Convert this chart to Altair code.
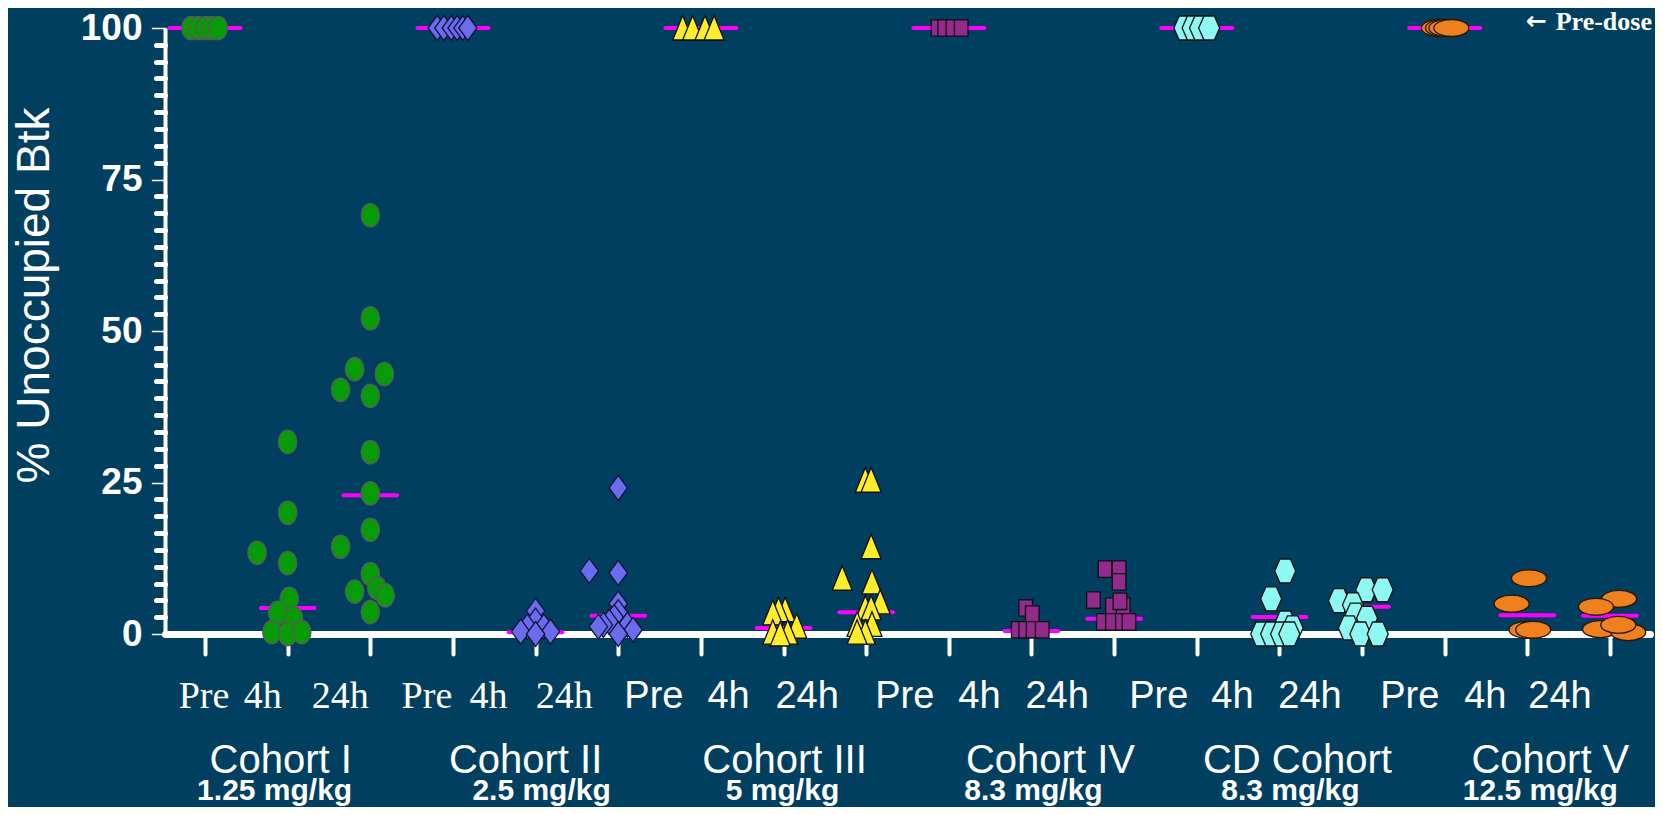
import altair as alt
import pandas as pd

# ---------------- data ----------------
cohorts = ["Cohort I", "Cohort II", "Cohort III", "Cohort IV", "CD Cohort", "Cohort V"]
doses = ["1.25 mg/kg", "2.5 mg/kg", "5 mg/kg", "8.3 mg/kg", "8.3 mg/kg", "12.5 mg/kg"]
times = ["Pre", "4h", "24h"]
y_major = [0, 25, 50, 75, 100]

# % unoccupied Btk per subject
c1_pre = [100, 100, 100, 100, 100]
c1_4h = [31.7, 20.0, 13.4, 11.7, 5.8, 3.5, 2.6, 0.3, 0.0, 0.3]
c1_24h = [69.1, 52.1, 43.7, 42.9, 40.3, 39.3, 30.0, 23.2, 17.2, 14.4, 9.9, 7.0, 7.6, 6.4, 3.6]
c2_pre = [100, 100, 100, 100, 100, 100]
c2_4h = [3.8, 2.2, 1.2, 1.2, 0.4, 0.4, 0.0]
c2_24h = [24.1, 10.4, 10.1, 5.0, 3.6, 2.8, 2.0, 1.5, 1.5, 0.7, 0.0, 1.2]
c3_pre = [100, 100, 100, 100]
c3_4h = [4.0, 4.0, 3.5, 1.3, 0.3, 0.3, 0.0]
c3_24h = [25.4, 25.4, 14.4, 9.2, 8.6, 5.3, 4.3, 4.3, 1.6, 1.6, 0.3, 0.3]
c4_pre = [100, 100, 100, 100]
c4_4h = [4.3, 3.3, 0.7, 0.7, 0.7, 0.7]
c4_24h = [10.7, 10.7, 8.6, 5.6, 4.6, 4.6, 5.4, 2.0, 2.0, 2.0, 2.0]
cd_pre = [100, 100, 100, 100]
cd_4h = [10.4, 5.8, 1.8, 1.0, 0.0, 0.0, 0.0, 0.0]
cd_24h = [7.3, 7.3, 5.5, 4.8, 3.1, 2.6, 1.0, 0.0, 0.0]
c5_pre = [100, 100, 100, 100]
c5_4h = [9.2, 5.0, 0.7, 0.7]
c5_24h = [5.8, 4.5, 0.8, 0.3, 1.5]

# horizontal scatter of each subject (fraction of the group spacing)
c1_pre_dx = [-0.17, -0.08, 0.01, 0.08, 0.16]
c1_4h_dx = [0, 0, -0.37, 0, 0.02, -0.12, 0.07, -0.19, 0, 0.17]
c1_24h_dx = [0, 0, -0.19, 0.17, -0.36, 0, 0, 0, 0, -0.36, 0, -0.19, 0.08, 0.18, 0]
c2_pre_dx = [-0.19, -0.11, -0.02, 0.05, 0.12, 0.18]
c2_4h_dx = [0, 0, -0.10, 0.10, -0.18, 0.18, 0]
c2_24h_dx = [0, -0.35, 0, 0, 0, -0.05, -0.11, -0.18, 0.11, 0.18, 0, -0.24]
c3_pre_dx = [-0.22, -0.10, 0.05, 0.16]
c3_4h_dx = [0.02, -0.06, -0.13, 0.16, -0.13, 0.05, -0.04]
c3_24h_dx = [-0.01, 0.06, 0.06, -0.29, 0.07, 0.17, -0.01, 0.06, -0.11, 0.07, -0.01, -0.11]
c4_pre_dx = [-0.13, -0.05, 0.05, 0.15]
c4_4h_dx = [-0.07, 0.01, -0.16, -0.07, 0.02, 0.13]
c4_24h_dx = [-0.11, 0.06, 0.06, -0.25, -0.02, 0.11, 0.07, -0.13, -0.02, 0.10, 0.18]
cd_pre_dx = [-0.15, -0.05, 0.04, 0.15]
cd_4h_dx = [0.07, -0.10, 0.07, 0.16, -0.22, -0.10, 0.02, 0.12]
cd_24h_dx = [0.05, 0.25, -0.28, -0.11, -0.08, 0.06, -0.16, -0.02, 0.19]
c5_pre_dx = [-0.07, -0.02, 0.02, 0.08]
c5_4h_dx = [0.02, -0.19, -0.01, 0.07]
c5_24h_dx = [0.11, -0.17, -0.12, 0.22, 0.10]

# median per cohort (magenta bars)
median_pre = [100, 100, 100, 100, 100, 100]
median_4h = [4.3, 0.3, 1.0, 0.5, 2.8, 3.1]
median_24h = [22.9, 3.0, 3.6, 2.5, 4.5, 3.0]

# ---------------- tables ----------------
groups = [
    [(c1_pre, c1_pre_dx), (c1_4h, c1_4h_dx), (c1_24h, c1_24h_dx)],
    [(c2_pre, c2_pre_dx), (c2_4h, c2_4h_dx), (c2_24h, c2_24h_dx)],
    [(c3_pre, c3_pre_dx), (c3_4h, c3_4h_dx), (c3_24h, c3_24h_dx)],
    [(c4_pre, c4_pre_dx), (c4_4h, c4_4h_dx), (c4_24h, c4_24h_dx)],
    [(cd_pre, cd_pre_dx), (cd_4h, cd_4h_dx), (cd_24h, cd_24h_dx)],
    [(c5_pre, c5_pre_dx), (c5_4h, c5_4h_dx), (c5_24h, c5_24h_dx)],
]
rows = []
for ci, c in enumerate(cohorts):
    for ti, t in enumerate(times):
        vals, dxs = groups[ci][ti]
        for v, d in zip(vals, dxs):
            rows.append({"cohort": c, "time": t, "idx": ci * 3 + ti, "pos": ci * 3 + ti + d, "value": v})
pts = pd.DataFrame(rows)

med_rows = []
for ci, c in enumerate(cohorts):
    for ti, (t, m) in enumerate(zip(times, [median_pre, median_4h, median_24h])):
        med_rows.append({"cohort": c, "time": t, "idx": ci * 3 + ti, "value": m[ci]})
meds = pd.DataFrame(med_rows)

lab_rows = []
for ci, c in enumerate(cohorts):
    for ti, t in enumerate(times):
        lab_rows.append({"cohort": c, "ci": ci, "time": t, "idx": ci * 3 + ti, "text": t})
labs = pd.DataFrame(lab_rows)
coh = pd.DataFrame({"cohort": cohorts, "dose": doses, "ci": list(range(6)),
                    "idx": [ci * 3 + 1 for ci in range(6)]})

# ---------------- styles ----------------
BG = "#003f5f"
WHITE = "#ffffff"
SANS = "Liberation Sans"
SERIF = "Liberation Serif"

shapes = [
    "M0,-1.17A0.92,1.17,0,1,1,0,1.17A0.92,1.17,0,1,1,0,-1.17Z",
    "M0,-1.25L0.92,0L0,1.25L-0.92,0Z",
    "M0,-1.25L1,1.2L-1,1.2Z",
    "M-0.68,-0.82L0.68,-0.82L0.68,0.82L-0.68,0.82Z",
    "M-0.52,-1.2L0.52,-1.2L1.05,0L0.52,1.2L-0.52,1.2L-1.05,0Z",
    "M0,-0.85A1.75,0.85,0,1,1,0,0.85A1.75,0.85,0,1,1,0,-0.85Z",
]
fills = ["#079c07", "#6b6bee", "#ffec2a", "#922b8c", "#8ef8f2", "#ef8020"]
strokes = ["#5a5a5a", "#14143c", "#111111", "#111111", "#111111", "#2a1500"]

xs = alt.Scale(domain=[-0.484, 17.484], nice=False, zero=False)
ys = alt.Scale(domain=[0, 100], nice=False, zero=False)

major_test = "abs(datum.value/25 - round(datum.value/25)) < 0.01"
y_values = [round(k * 25 / 9, 4) for k in range(37)]

yaxis = alt.Axis(
    values=y_values,
    labelExpr=f"{major_test} ? format(datum.value, 'd') : ''",
    labelFont=SANS, labelFontWeight="bold", labelFontSize=37, labelColor=WHITE,
    labelPadding=10, labelOverlap=False, labelFlush=False, labelBound=False,
    tickColor=WHITE, tickCap="round",
    tickSize={"condition": {"test": major_test, "value": 13}, "value": 9},
    tickWidth={"condition": {"test": major_test, "value": 1.5}, "value": 5},
    domainColor=WHITE, domainWidth=4,
    grid=False,
    title="% Unoccupied Btk", titleFont=SANS, titleFontSize=46, titleFontWeight="normal",
    titleColor=WHITE, titleAngle=270, titleBaseline="bottom", titleAlign="center",
    titleX=-107, titleY=267,
)
xaxis = alt.Axis(
    values=list(range(18)), labels=False, title=None, grid=False,
    tickColor=WHITE, tickSize=20, tickWidth=4, tickCap="round",
    domainColor=WHITE, domainWidth=7, domainCap="round",
)

# ---------------- layers ----------------
median_layer = alt.Chart(meds).transform_calculate(
    hw="datum.time == 'Pre' ? 0.43 : 0.325"
).transform_calculate(
    lo="datum.idx - datum.hw"
).transform_calculate(
    hi="datum.idx + datum.hw"
).mark_rule(color="#ff00ff", strokeWidth=4, strokeCap="round").encode(
    x=alt.X("lo:Q", scale=xs, axis=xaxis),
    x2="hi:Q",
    y=alt.Y("value:Q", scale=ys, axis=yaxis),
)

point_layer = alt.Chart(pts).mark_point(size=400, opacity=1, fillOpacity=1, strokeWidth=1.3).encode(
    x=alt.X("pos:Q", scale=xs, axis=xaxis),
    y=alt.Y("value:Q", scale=ys, axis=yaxis),
    shape=alt.Shape("cohort:N", scale=alt.Scale(domain=cohorts, range=shapes), legend=None),
    fill=alt.Fill("cohort:N", scale=alt.Scale(domain=cohorts, range=fills), legend=None),
    stroke=alt.Stroke("cohort:N", scale=alt.Scale(domain=cohorts, range=strokes), legend=None),
)

# time-point labels: nudges (px) per cohort and time, as laid out in the slide
time_nudge = {
    0: {"Pre": -1, "4h": -25, "24h": -30},
    1: {"Pre": -26, "4h": -47, "24h": -54},
    2: {"Pre": -47, "4h": -55, "24h": -59},
    3: {"Pre": -44, "4h": -52, "24h": -57},
    4: {"Pre": -38, "4h": -47, "24h": -52},
    5: {"Pre": -35, "4h": -42, "24h": -50},
}
name_nudge = [-7, -10, 1, 19, 18, 23]
dose_nudge = [-13, 6, -1, 2, 11, 13]

text_layers = []
for ci in range(6):
    font = SERIF if ci < 2 else SANS
    for t in times:
        text_layers.append(
            alt.Chart(labs).transform_filter(
                f"datum.ci == {ci} && datum.time == '{t}'"
            ).mark_text(
                font=font, fontSize=38, color=WHITE, align="center", baseline="alphabetic",
                dx=time_nudge[ci][t],
            ).encode(
                x=alt.X("idx:Q", scale=xs, axis=xaxis), y=alt.value(680), text="text:N"
            )
        )
    text_layers.append(
        alt.Chart(coh).transform_filter(f"datum.ci == {ci}").mark_text(
            font=SANS, fontSize=40, color=WHITE, align="center", baseline="alphabetic",
            dx=name_nudge[ci],
        ).encode(x=alt.X("idx:Q", scale=xs, axis=xaxis), y=alt.value(745), text="cohort:N")
    )
    text_layers.append(
        alt.Chart(coh).transform_filter(f"datum.ci == {ci}").mark_text(
            font=SANS, fontSize=30, fontWeight="bold", color=WHITE, align="center",
            baseline="alphabetic", dx=dose_nudge[ci],
        ).encode(x=alt.X("idx:Q", scale=xs, axis=xaxis), y=alt.value(772), text="dose:N")
    )

predose_df = pd.DataFrame({"arrow": ["\u2190"], "t": ["Pre-dose"]})
predose = alt.Chart(predose_df).mark_text(
    font=SERIF, fontSize=26, fontWeight="bold", color=WHITE, align="right", baseline="alphabetic"
).encode(x=alt.value(1487), y=alt.value(2), text="t:N")
arrow = alt.Chart(predose_df).mark_text(
    font="DejaVu Sans", fontSize=25, fontWeight="bold", color=WHITE, align="right", baseline="alphabetic"
).encode(x=alt.value(1382), y=alt.value(1), text="arrow:N")

chart = alt.layer(median_layer, point_layer, *text_layers, predose, arrow).properties(
    width=1485, height=606,
    autosize=alt.AutoSizeParams(type="none"),
    padding={"left": 157, "top": 20, "right": 5, "bottom": 173},
    background=BG,
).configure_view(stroke=None)

chart.save("out.html", embed_options={"renderer": "svg", "actions": False})
